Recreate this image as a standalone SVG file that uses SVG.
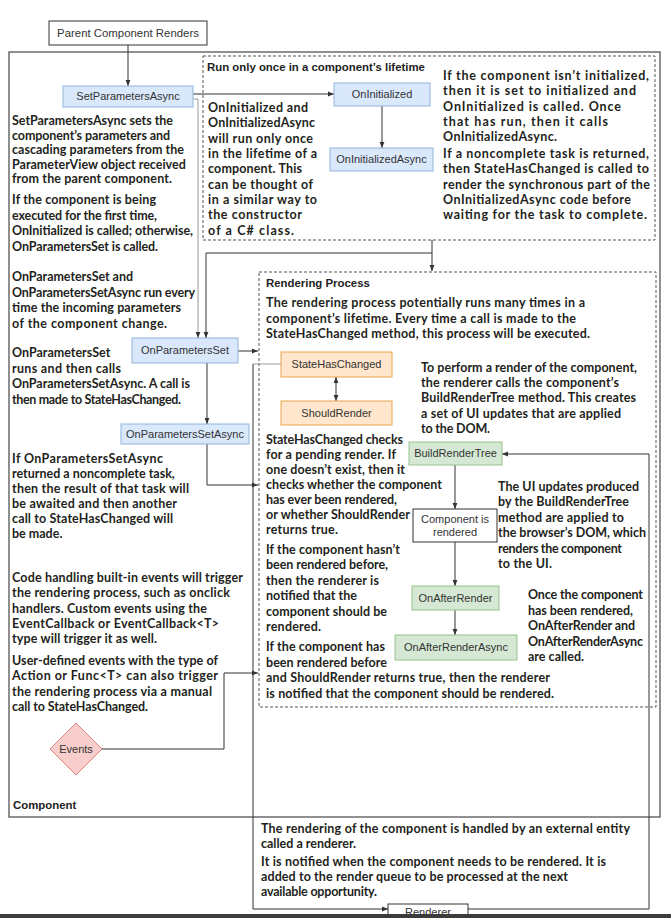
<svg xmlns="http://www.w3.org/2000/svg" width="671" height="918" viewBox="0 0 671 918">
<style>
.t{font-family:Lato,"Open Sans","DejaVu Sans",sans-serif;font-weight:bold;font-size:12.5px;fill:#231f20}
.n{font-family:"Liberation Sans",Arial,sans-serif;font-size:11px;fill:#333;text-anchor:middle}
.h{font-family:"Liberation Sans",Arial,sans-serif;font-size:11.4px;font-weight:bold;fill:#222}
.blue{fill:#dae8fc;stroke:#92b2dc;stroke-width:1}
.orange{fill:#ffe6cc;stroke:#e8a74d;stroke-width:1}
.green{fill:#d5e8d4;stroke:#97c18a;stroke-width:1}
.plain{fill:#fff;stroke:#333;stroke-width:1}
.c{fill:none;stroke:#333;stroke-width:1}
.g{fill:none;stroke:#999;stroke-width:1}
.dash{fill:none;stroke:#555;stroke-width:1;stroke-dasharray:3,2}
</style>
<defs>
<marker id="a" viewBox="0 0 10 10" refX="10" refY="5" markerWidth="6" markerHeight="6" orient="auto-start-reverse"><path d="M0,1 L10,5 L0,9 z" fill="#333"/></marker>
</defs>
<rect x="0" y="0" width="671" height="918" fill="#fff"/>

<g id="component-frame">
<rect x="9" y="52" width="651" height="765" fill="none" stroke="#555" stroke-width="1.3"/>
<text class="h" x="13" y="809">Component</text>
</g>

<g id="run-once-group">
<rect class="dash" x="203" y="56" width="452" height="184"/>
<text class="h" x="207" y="71">Run only once in a component’s lifetime</text>
</g>

<g id="rendering-group">
<rect class="dash" x="259" y="272" width="397" height="435"/>
<text class="h" x="266" y="287">Rendering Process</text>
</g>

<g id="connectors">
<path class="c" d="M128,45 V86" marker-end="url(#a)"/>
<path class="c" d="M193,94 H334" marker-end="url(#a)"/>
<path class="c" d="M382,106 V148" marker-end="url(#a)"/>
<path class="g" d="M193,99 H198 V338" marker-end="url(#a)"/>
<path class="c" d="M432,240 V271" marker-end="url(#a)"/>
<path class="c" d="M432,253 H206 V338" marker-end="url(#a)"/>
<path class="c" d="M238,351 H258" marker-end="url(#a)"/>
<path class="c" d="M207,363 V424" marker-end="url(#a)"/>
<path class="c" d="M207,444 V485 H258" marker-end="url(#a)"/>
<path class="c" d="M102,749 H224 V673 H258" marker-end="url(#a)"/>
<path class="c" d="M336,377 V401" marker-start="url(#a)" marker-end="url(#a)"/>
<path class="g" d="M281,364 H253"/>
<path class="c" d="M253,364 V909 H388" marker-end="url(#a)"/>
<path class="c" d="M468,909 H649 V454 H502" marker-end="url(#a)"/>
<path class="c" d="M455,465 V509" marker-end="url(#a)"/>
<path class="c" d="M455,542 V586" marker-end="url(#a)"/>
<path class="c" d="M455,610 V635" marker-end="url(#a)"/>
</g>

<g id="parent">
<rect class="plain" x="49" y="21" width="158" height="24"/>
<text class="n" x="128" y="37" style="font-size:11.4px">Parent Component Renders</text>
</g>
<g id="setparametersasync">
<rect class="blue" x="63" y="86" width="130" height="21"/>
<text class="n" x="128" y="100">SetParametersAsync</text>
</g>
<g id="oninitialized">
<rect class="blue" x="334" y="83" width="96" height="23"/>
<text class="n" x="382" y="98">OnInitialized</text>
</g>
<g id="oninitializedasync">
<rect class="blue" x="330" y="148" width="103" height="23"/>
<text class="n" x="381.5" y="163">OnInitializedAsync</text>
</g>
<g id="onparametersset">
<rect class="blue" x="132" y="338" width="106" height="25"/>
<text class="n" x="185" y="354">OnParametersSet</text>
</g>
<g id="onparameterssetasync">
<rect class="blue" x="121" y="424" width="128" height="20"/>
<text class="n" x="185" y="438">OnParametersSetAsync</text>
</g>
<g id="events">
<path d="M76,723 L102,749 L76,775 L50,749 z" fill="#f8cecc" stroke="#d9847f" stroke-width="1"/>
<text class="n" x="76" y="753">Events</text>
</g>
<g id="statehaschanged">
<rect class="orange" x="281" y="352" width="111" height="25"/>
<text class="n" x="336.5" y="368">StateHasChanged</text>
</g>
<g id="shouldrender">
<rect class="orange" x="281" y="401" width="111" height="24"/>
<text class="n" x="336.5" y="417">ShouldRender</text>
</g>
<g id="buildrendertree">
<rect class="green" x="409" y="442" width="93" height="23"/>
<text class="n" x="455.5" y="457">BuildRenderTree</text>
</g>
<g id="component-is-rendered">
<rect class="plain" x="413" y="509" width="84" height="33"/>
<text class="n" x="455" y="523">Component is</text>
<text class="n" x="455" y="536">rendered</text>
</g>
<g id="onafterrender">
<rect class="green" x="412" y="586" width="87" height="24"/>
<text class="n" x="455.5" y="602">OnAfterRender</text>
</g>
<g id="onafterrenderasync">
<rect class="green" x="395" y="635" width="122" height="25"/>
<text class="n" x="456" y="651">OnAfterRenderAsync</text>
</g>
<g id="renderer">
<rect class="plain" x="388" y="904" width="80" height="20"/>
<text class="n" x="428" y="916">Renderer</text>
</g>

<g id="notes">
<text class="t" x="12" y="125" textLength="161">SetParametersAsync sets the</text>
<text class="t" x="12" y="139.6" textLength="158">component’s parameters and</text>
<text class="t" x="12" y="154.2" textLength="172">cascading parameters from the</text>
<text class="t" x="12" y="168.8">ParameterView object received</text>
<text class="t" x="12" y="183.4" textLength="160">from the parent component.</text>
<text class="t" x="12" y="204" textLength="144">If the component is being</text>
<text class="t" x="12" y="219.5" textLength="145">executed for the first time,</text>
<text class="t" x="12" y="235" textLength="181">OnInitialized is called; otherwise,</text>
<text class="t" x="12" y="250.5" textLength="146">OnParametersSet is called.</text>
<text class="t" x="12" y="281" textLength="121">OnParametersSet and</text>
<text class="t" x="12" y="296.7" textLength="183">OnParametersSetAsync run every</text>
<text class="t" x="12" y="312.4" textLength="169">time the incoming parameters</text>
<text class="t" x="12" y="328.1" textLength="155">of the component change.</text>
<text class="t" x="12" y="357">OnParametersSet</text>
<text class="t" x="12" y="372.7" textLength="109">runs and then calls</text>
<text class="t" x="12" y="388.4" textLength="178">OnParametersSetAsync. A call is</text>
<text class="t" x="12" y="404.1" textLength="169">then made to StateHasChanged.</text>
<text class="t" x="12" y="463" textLength="151">If OnParametersSetAsync</text>
<text class="t" x="12" y="478">returned a noncomplete task,</text>
<text class="t" x="12" y="493" textLength="177">then the result of that task will</text>
<text class="t" x="12" y="508" textLength="165">be awaited and then another</text>
<text class="t" x="12" y="523" textLength="161">call to StateHasChanged will</text>
<text class="t" x="12" y="538">be made.</text>
<text class="t" x="12" y="582" textLength="231">Code handling built-in events will trigger</text>
<text class="t" x="12" y="597.3" textLength="218">the rendering process, such as onclick</text>
<text class="t" x="12" y="612.6" textLength="195">handlers. Custom events using the</text>
<text class="t" x="12" y="627.9" textLength="207">EventCallback or EventCallback&lt;T&gt;</text>
<text class="t" x="12" y="643.2" textLength="145">type will trigger it as well.</text>
<text class="t" x="12" y="665" textLength="206">User-defined events with the type of</text>
<text class="t" x="12" y="680.3" textLength="206">Action or Func&lt;T&gt; can also trigger</text>
<text class="t" x="12" y="695.6" textLength="200">the rendering process via a manual</text>
<text class="t" x="12" y="710.9" textLength="136">call to StateHasChanged.</text>

<text class="t" x="208" y="112" textLength="100">OnInitialized and</text>
<text class="t" x="208" y="127.35" textLength="107">OnInitializedAsync</text>
<text class="t" x="208" y="142.7" textLength="105">will run only once</text>
<text class="t" x="208" y="158" textLength="109">in the lifetime of a</text>
<text class="t" x="208" y="173.4" textLength="94">component. This</text>
<text class="t" x="208" y="188.75" textLength="105">can be thought of</text>
<text class="t" x="208" y="204.1" textLength="109">in a similar way to</text>
<text class="t" x="208" y="219.45" textLength="94">the constructor</text>
<text class="t" x="208" y="234.8" textLength="86">of a C# class.</text>

<text class="t" x="443" y="80" textLength="206">If the component isn’t initialized,</text>
<text class="t" x="443" y="95.3" textLength="193">then it is set to initialized and</text>
<text class="t" x="443" y="110.6" textLength="178">OnInitialized is called. Once</text>
<text class="t" x="443" y="125.9" textLength="165">that has run, then it calls</text>
<text class="t" x="443" y="141.2" textLength="114">OnInitializedAsync.</text>
<text class="t" x="443" y="158" textLength="206">If a noncomplete task is returned,</text>
<text class="t" x="443" y="173.3" textLength="206">then StateHasChanged is called to</text>
<text class="t" x="443" y="188.6" textLength="207">render the synchronous part of the</text>
<text class="t" x="443" y="203.9" textLength="188">OnInitializedAsync code before</text>
<text class="t" x="443" y="219.2" textLength="204">waiting for the task to complete.</text>

<text class="t" x="266" y="307" textLength="319">The rendering process potentially runs many times in a</text>
<text class="t" x="266" y="322.7" textLength="310">component’s lifetime. Every time a call is made to the</text>
<text class="t" x="266" y="338.4" textLength="324">StateHasChanged method, this process will be executed.</text>

<text class="t" x="421" y="372" textLength="216">To perform a render of the component,</text>
<text class="t" x="421" y="387.2" textLength="198">the renderer calls the component’s</text>
<text class="t" x="421" y="402.4" textLength="215">BuildRenderTree method. This creates</text>
<text class="t" x="421" y="417.6" textLength="200">a set of UI updates that are applied</text>
<text class="t" x="421" y="432.8" textLength="69">to the DOM.</text>

<text class="t" x="266" y="444" textLength="137">StateHasChanged checks</text>
<text class="t" x="266" y="459" textLength="130">for a pending render. If</text>
<text class="t" x="266" y="474" textLength="139">one doesn’t exist, then it</text>
<text class="t" x="266" y="489" textLength="176">checks whether the component</text>
<text class="t" x="266" y="504" textLength="131">has ever been rendered,</text>
<text class="t" x="266" y="519" textLength="144">or whether ShouldRender</text>
<text class="t" x="266" y="534" textLength="72">returns true.</text>

<text class="t" x="266" y="554" textLength="134">If the component hasn’t</text>
<text class="t" x="266" y="569.4" textLength="122">been rendered before,</text>
<text class="t" x="266" y="584.8" textLength="113">then the renderer is</text>
<text class="t" x="266" y="600.2" textLength="91">notified that the</text>
<text class="t" x="266" y="615.6" textLength="121">component should be</text>
<text class="t" x="266" y="631" textLength="55">rendered.</text>

<text class="t" x="266" y="651" textLength="119">If the component has</text>
<text class="t" x="266" y="666.6" textLength="121">been rendered before</text>
<text class="t" x="266" y="682.2" textLength="284">and ShouldRender returns true, then the renderer</text>
<text class="t" x="266" y="697.8" textLength="288">is notified that the component should be rendered.</text>

<text class="t" x="498" y="491" textLength="141">The UI updates produced</text>
<text class="t" x="498" y="506.4" textLength="131">by the BuildRenderTree</text>
<text class="t" x="498" y="521.8" textLength="126">method are applied to</text>
<text class="t" x="498" y="537.2" textLength="148">the browser’s DOM, which</text>
<text class="t" x="498" y="552.6" textLength="124">renders the component</text>
<text class="t" x="498" y="568" textLength="54">to the UI.</text>

<text class="t" x="528" y="599" textLength="115">Once the component</text>
<text class="t" x="528" y="614.5" textLength="105">has been rendered,</text>
<text class="t" x="528" y="630" textLength="107">OnAfterRender and</text>
<text class="t" x="528" y="645.5" textLength="115">OnAfterRenderAsync</text>
<text class="t" x="528" y="661" textLength="56">are called.</text>

<text class="t" x="261" y="833" textLength="369">The rendering of the component is handled by an external entity</text>
<text class="t" x="261" y="848">called a renderer.</text>
<text class="t" x="261" y="866" textLength="345">It is notified when the component needs to be rendered. It is</text>
<text class="t" x="261" y="881" textLength="307">added to the render queue to be processed at the next</text>
<text class="t" x="261" y="896" textLength="116">available opportunity.</text>
</g>
<rect x="0" y="914" width="671" height="4" fill="#3c3c3c"/>
</svg>
